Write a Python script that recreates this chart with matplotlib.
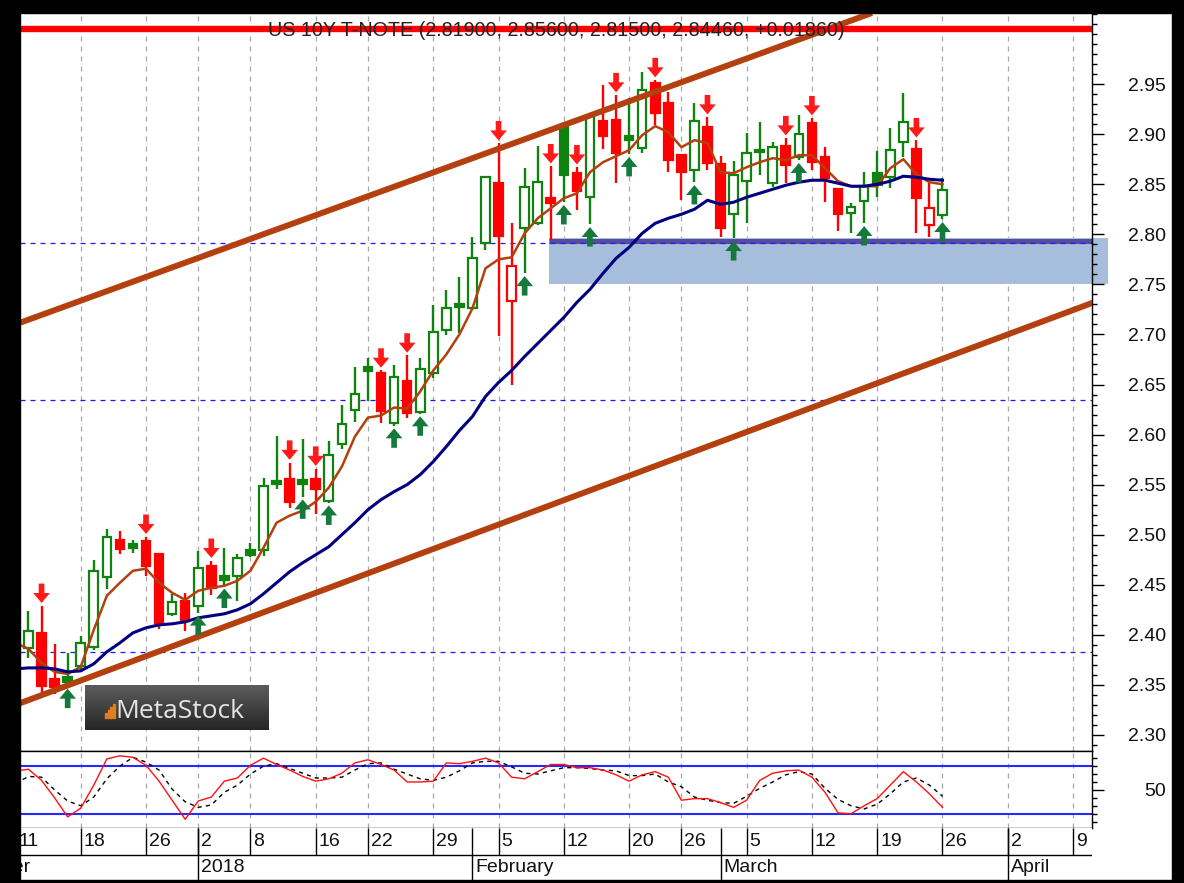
import matplotlib
matplotlib.use("Agg")
import matplotlib.pyplot as plt
import matplotlib.transforms as mtransforms
from matplotlib.patches import Rectangle
import numpy as np
import pandas as pd

plt.rcParams["font.family"] = ["Liberation Sans", "DejaVu Sans"]
plt.rcParams["axes.linewidth"] = 1.0

# ---------------- data ----------------
TITLE = "US 10Y T-NOTE (2.81900, 2.85600, 2.81500, 2.84460, +0.01860)"
holidays = ["2017-12-25", "2018-01-01", "2018-01-15", "2018-02-19"]

# daily candles, 2017-12-12 .. 2018-03-26
opens = [2.387, 2.402, 2.356, 2.358, 2.369, 2.388, 2.458, 2.495, 2.491, 2.494,
         2.481, 2.421, 2.434, 2.429, 2.469, 2.459, 2.459, 2.485, 2.485, 2.554,
         2.556, 2.555, 2.556, 2.534, 2.591, 2.625, 2.667, 2.661, 2.612, 2.653,
         2.623, 2.661, 2.704, 2.730, 2.726, 2.791, 2.851, 2.733, 2.806, 2.811,
         2.836, 2.907, 2.861, 2.837, 2.913, 2.914, 2.898, 2.886, 2.951, 2.931,
         2.879, 2.864, 2.907, 2.870, 2.820, 2.853, 2.884, 2.851, 2.888, 2.877,
         2.911, 2.877, 2.845, 2.821, 2.833, 2.861, 2.857, 2.892, 2.885, 2.809,
         2.819]
highs = [2.424, 2.429, 2.391, 2.382, 2.399, 2.475, 2.506, 2.504, 2.495, 2.498,
         2.482, 2.441, 2.442, 2.484, 2.474, 2.487, 2.481, 2.492, 2.557, 2.599,
         2.572, 2.596, 2.566, 2.594, 2.630, 2.667, 2.676, 2.664, 2.669, 2.679,
         2.676, 2.729, 2.744, 2.757, 2.797, 2.858, 2.891, 2.811, 2.866, 2.888,
         2.868, 2.908, 2.867, 2.919, 2.949, 2.939, 2.936, 2.962, 2.954, 2.942,
         2.880, 2.931, 2.917, 2.878, 2.873, 2.901, 2.912, 2.892, 2.896, 2.919,
         2.916, 2.887, 2.846, 2.831, 2.862, 2.883, 2.906, 2.941, 2.894, 2.851,
         2.856]
lows = [2.377, 2.341, 2.341, 2.349, 2.364, 2.385, 2.446, 2.481, 2.482, 2.459,
        2.406, 2.419, 2.404, 2.422, 2.440, 2.449, 2.434, 2.478, 2.479, 2.546,
        2.527, 2.538, 2.521, 2.532, 2.586, 2.613, 2.634, 2.612, 2.609, 2.617,
        2.621, 2.656, 2.699, 2.701, 2.724, 2.784, 2.698, 2.650, 2.761, 2.809,
        2.794, 2.832, 2.824, 2.810, 2.885, 2.851, 2.880, 2.881, 2.909, 2.862,
        2.834, 2.852, 2.864, 2.797, 2.796, 2.811, 2.859, 2.847, 2.851, 2.874,
        2.864, 2.832, 2.803, 2.801, 2.811, 2.837, 2.846, 2.877, 2.801, 2.797,
        2.815]
closes = [2.404, 2.349, 2.348, 2.353, 2.392, 2.464, 2.498, 2.486, 2.487, 2.469,
          2.412, 2.433, 2.414, 2.467, 2.447, 2.455, 2.477, 2.480, 2.549, 2.551,
          2.533, 2.551, 2.546, 2.580, 2.611, 2.641, 2.663, 2.624, 2.657, 2.622,
          2.665, 2.702, 2.726, 2.727, 2.776, 2.857, 2.798, 2.768, 2.847, 2.852,
          2.831, 2.859, 2.843, 2.918, 2.898, 2.881, 2.894, 2.944, 2.921, 2.874,
          2.862, 2.913, 2.871, 2.806, 2.859, 2.881, 2.882, 2.887, 2.869, 2.900,
          2.872, 2.856, 2.820, 2.827, 2.848, 2.849, 2.884, 2.912, 2.836, 2.826,
          2.8446]

# indicator lines, 2017-12-11 .. 2018-03-26
ma_fast = [2.392, 2.386, 2.372, 2.363, 2.361, 2.368, 2.405, 2.439, 2.452, 2.464,
           2.466, 2.452, 2.442, 2.435, 2.444, 2.447, 2.449, 2.454, 2.464, 2.487,
           2.512, 2.519, 2.524, 2.533, 2.547, 2.568, 2.598, 2.617, 2.619, 2.627,
           2.626, 2.643, 2.664, 2.680, 2.700, 2.726, 2.766, 2.775, 2.777, 2.801,
           2.816, 2.826, 2.836, 2.841, 2.862, 2.872, 2.878, 2.884, 2.899, 2.908,
           2.902, 2.887, 2.894, 2.891, 2.862, 2.861, 2.867, 2.872, 2.876, 2.874,
           2.879, 2.879, 2.866, 2.853, 2.848, 2.848, 2.848, 2.866, 2.875, 2.860,
           2.852, 2.850]
ma_slow = [2.366, 2.367, 2.367, 2.366, 2.363, 2.364, 2.371, 2.383, 2.392, 2.402,
           2.407, 2.410, 2.411, 2.413, 2.417, 2.419, 2.421, 2.425, 2.431, 2.441,
           2.452, 2.463, 2.472, 2.480, 2.488, 2.500, 2.512, 2.525, 2.535, 2.543,
           2.550, 2.560, 2.573, 2.588, 2.604, 2.618, 2.638, 2.652, 2.664, 2.678,
           2.691, 2.704, 2.717, 2.732, 2.745, 2.761, 2.776, 2.787, 2.801, 2.811,
           2.816, 2.820, 2.825, 2.834, 2.830, 2.832, 2.837, 2.841, 2.845, 2.849,
           2.852, 2.854, 2.854, 2.851, 2.848, 2.848, 2.850, 2.853, 2.858, 2.857,
           2.855, 2.854]
stoch_k = [74, 76, 62, 40, 16, 27, 56, 89, 93, 91,
           81, 61, 37, 13, 36, 41, 61, 65, 81, 90,
           82, 75, 67, 61, 64, 71, 84, 88, 82, 75,
           60, 60, 61, 84, 83, 86, 90, 84, 66, 64,
           73, 82, 82, 78, 78, 75, 69, 61, 69, 73,
           66, 37, 39, 39, 34, 28, 37, 62, 71, 74,
           75, 66, 47, 21, 20, 30, 39, 56, 73, 60,
           45, 28]
stoch_d = [58, 67, 66, 50, 36, 30, 41, 64, 80, 91,
           85, 75, 51, 35, 28, 31, 47, 56, 70, 80,
           83, 77, 71, 65, 65, 66, 75, 83, 84, 76,
           70, 64, 62, 66, 74, 84, 86, 86, 79, 71,
           70, 74, 78, 78, 77, 75, 74, 68, 68, 70,
           60, 54, 41, 37, 34, 33, 42, 52, 60, 69,
           73, 70, 52, 38, 30, 26, 32, 45, 60, 65,
           56, 42]
stoch_levels = [80, 20]

sell_signals = ["2017-12-13", "2017-12-26", "2018-01-03", "2018-01-11", "2018-01-16",
                "2018-01-23", "2018-01-25", "2018-02-05", "2018-02-09", "2018-02-13",
                "2018-02-16", "2018-02-22", "2018-02-28", "2018-03-08", "2018-03-12",
                "2018-03-22"]
buy_signals = ["2017-12-15", "2018-01-02", "2018-01-04", "2018-01-12", "2018-01-17",
               "2018-01-24", "2018-01-26", "2018-02-07", "2018-02-12", "2018-02-14",
               "2018-02-20", "2018-02-27", "2018-03-02", "2018-03-09", "2018-03-16",
               "2018-03-26"]

# drawn objects
channel_upper = [("2017-12-11", 2.710), ("2018-03-07", 2.985)]
channel_lower = [("2017-12-11", 2.330), ("2018-04-02", 2.700)]
level_top = 3.005
dashed_levels = [2.791, 2.635, 2.383]
zone_start = "2018-02-09"
zone_low, zone_high = 2.750, 2.796
zone_line = 2.793

week_ticks = ["2017-12-11", "2017-12-18", "2017-12-26", "2018-01-02", "2018-01-08",
              "2018-01-16", "2018-01-22", "2018-01-29", "2018-02-05", "2018-02-12",
              "2018-02-20", "2018-02-26", "2018-03-05", "2018-03-12", "2018-03-19",
              "2018-03-26", "2018-04-02", "2018-04-09"]
month_starts = ["2017-12-01", "2018-01-02", "2018-02-01", "2018-03-01", "2018-04-02"]
month_labels = ["December", "2018", "February", "March", "April"]

price_ticks = np.arange(2.30, 2.951, 0.05)

# ---------------- trading-day axis ----------------
days = pd.bdate_range("2017-12-01", "2018-04-13")
days = days[~days.isin(pd.to_datetime(holidays))]
xpos = pd.Series(np.arange(len(days)), index=days)

candle_days = days[(days >= "2017-12-12") & (days <= "2018-03-26")]
line_days = days[(days >= "2017-12-11") & (days <= "2018-03-26")]
ohlc = pd.DataFrame({"open": opens, "high": highs, "low": lows, "close": closes},
                    index=candle_days)
lines = pd.DataFrame({"fast": ma_fast, "slow": ma_slow, "k": stoch_k, "d": stoch_d},
                     index=line_days)

X0 = xpos[pd.Timestamp("2017-12-11")] + 0.35
X1 = xpos[pd.Timestamp("2018-04-09")] + 1.45

GREEN = "#0f820f"
RED = "#ff0000"
BROWN = "#b3400e"
NAVY = "#000080"

W, H = 1184, 883
fig = plt.figure(figsize=(W / 100, H / 100), dpi=100)
fig.patch.set_facecolor("white")


def frac(x0, y0, x1, y1):
    return [x0 / W, 1 - y1 / H, (x1 - x0) / W, (y1 - y0) / H]


ax = fig.add_axes(frac(20, 14, 1092, 751))
axs = fig.add_axes(frac(20, 751, 1092, 828))
axd = fig.add_axes(frac(20, 828, 1092, 880))

for a in (ax, axs, axd):
    a.set_xlim(X0, X1)
    a.set_xticks([])
    a.spines["left"].set_visible(False)
    a.spines["top"].set_visible(False)

# ---------------- price panel ----------------
ax.set_ylim(2.284, 3.020)
for d in week_ticks:
    ax.axvline(xpos[pd.Timestamp(d)], color="#a8a8a8", lw=0.9, ls=(0, (4, 4)), zorder=0)
    axs.axvline(xpos[pd.Timestamp(d)], color="#a8a8a8", lw=0.9, ls=(0, (4, 4)), zorder=0)

zx = xpos[pd.Timestamp(zone_start)] - 0.13
ax.add_patch(Rectangle((zx, zone_low), X1 + 1.25 - zx, zone_high - zone_low,
                       facecolor="#a6bddc", edgecolor="none", zorder=1, clip_on=False))
ax.plot([zx, X1], [zone_line, zone_line], color="#554c9e", lw=3.6, zorder=2,
        solid_capstyle="butt")

for lv in dashed_levels:
    ax.axhline(lv, color="#1a1aff", lw=0.9, ls=(0, (4, 4)), zorder=2)

prev_close = ohlc["close"].shift(1)
body_w = 0.66
for d, row in ohlc.iterrows():
    x = xpos[d]
    up = pd.isna(prev_close[d]) or row["close"] >= prev_close[d]
    col = GREEN if up else RED
    ax.vlines(x, row["low"], row["high"], color=col, lw=1.7, zorder=3)
    lo, hi = sorted((row["open"], row["close"]))
    hollow = row["close"] > row["open"]
    ax.add_patch(Rectangle((x - body_w / 2, lo), body_w, max(hi - lo, 0.0012),
                           facecolor="white" if hollow else col, edgecolor=col,
                           lw=1.6, zorder=4))

xl = xpos[line_days].values
ax.plot(xl, lines["fast"], color=BROWN, lw=1.8, zorder=5)
ax.plot(xl, lines["slow"], color=NAVY, lw=2.2, zorder=5)

for pts in (channel_upper, channel_lower):
    (d0, v0), (d1, v1) = pts
    ax.axline((xpos[pd.Timestamp(d0)], v0), (xpos[pd.Timestamp(d1)], v1),
              color=BROWN, lw=4.3, zorder=5)

ax.axhline(level_top, color="#ff0000", lw=4.6, zorder=5)

arrow = "simple,head_length=0.6,head_width=1.0,tail_width=0.34"
for d in sell_signals:
    t = pd.Timestamp(d)
    ax.annotate("", xy=(xpos[t], ohlc.loc[t, "high"]), xytext=(0, 16),
                textcoords="offset points", zorder=6,
                arrowprops=dict(arrowstyle=arrow, color="#ff1a1a", lw=0,
                                shrinkA=0, shrinkB=2, mutation_scale=12))
for d in buy_signals:
    t = pd.Timestamp(d)
    ax.annotate("", xy=(xpos[t], ohlc.loc[t, "low"]), xytext=(0, -16),
                textcoords="offset points", zorder=6,
                arrowprops=dict(arrowstyle=arrow, color="#16793c", lw=0,
                                shrinkA=0, shrinkB=2, mutation_scale=12))

ax.text(0.5, 0.978, TITLE, transform=ax.transAxes, ha="center", va="center",
        fontsize=14.2, color="#222222", zorder=8)

ax.yaxis.tick_right()
ax.set_yticks(price_ticks)
ax.set_yticklabels([f"{v:.2f}" for v in price_ticks])
ax.set_yticks(np.arange(2.29, 3.021, 0.01), minor=True)
ax.tick_params(axis="y", which="major", length=8.6, width=1, pad=44.5,
               labelsize=14, labelcolor="#111111")
ax.tick_params(axis="y", which="minor", length=3.6, width=1)
plt.setp(ax.get_yticklabels(), ha="right")

# ---------------- stochastic panel ----------------
axs.set_ylim(2, 99)
for lv in stoch_levels:
    axs.axhline(lv, color="#2828ff", lw=1.5, zorder=1)
axs.plot(xl, lines["d"], color="black", lw=1.0, ls=(0, (3, 3)), zorder=2)
axs.plot(xl, lines["k"], color="#ff1010", lw=1.0, zorder=3)
axs.yaxis.tick_right()
axs.set_yticks([50])
axs.set_yticklabels(["50"])
axs.set_yticks(np.arange(10, 100, 10), minor=True)
axs.tick_params(axis="y", which="major", length=8.6, width=1, pad=44.5,
                labelsize=14, labelcolor="#111111")
axs.tick_params(axis="y", which="minor", length=3.6, width=1)
plt.setp(axs.get_yticklabels(), ha="right")
axs.spines["top"].set_visible(True)

# ---------------- date axis ----------------
axd.set_ylim(0, 1)
axd.set_yticks([])
axd.spines["right"].set_visible(False)
axd.spines["bottom"].set_visible(False)
row_split = 25 / 52
axd.axhline(row_split, color="black", lw=1)
blend = mtransforms.blended_transform_factory(axd.transData, axd.transAxes)
txt_tr = mtransforms.offset_copy(blend, fig=fig, x=3, y=0, units="dots")
for d in week_ticks:
    t = pd.Timestamp(d)
    axd.vlines(xpos[t], row_split, 1, color="black", lw=1, transform=blend)
    axd.text(xpos[t], (row_split + 1) / 2, str(t.day), transform=txt_tr,
             ha="left", va="center", fontsize=14, color="#111111", clip_on=True)
for d, lab in zip(month_starts, month_labels):
    t = pd.Timestamp(d)
    axd.vlines(xpos[t], 0, 1, color="black", lw=1, transform=blend)
    axd.text(xpos[t], row_split / 2, lab, transform=txt_tr,
             ha="left", va="center", fontsize=14, color="#111111", clip_on=True)

# ---------------- MetaStock badge ----------------
logo = fig.add_axes(frac(85, 685, 269, 730))
grad = np.linspace(0.15, 0.36, 45)[:, None] * np.ones((1, 10))
logo.imshow(grad, cmap="gray", vmin=0, vmax=1, extent=(0, 184, 0, 45),
            aspect="auto", origin="lower")
for k, hgt in enumerate([5, 8, 11, 14]):
    logo.add_patch(Rectangle((20 + 2.6 * k, 12), 2.0, hgt, color="#e07d1c"))
logo.text(30, 12.5, "MetaStock", fontsize=19, color="#e4e4e4",
          family=["Open Sans", "DejaVu Sans"], ha="left", va="baseline")
logo.set_xlim(0, 184)
logo.set_ylim(0, 45)
logo.axis("off")

# ---------------- screenshot frame ----------------
for (x0, y0, x1, y1) in [(0, 0, 20, H), (0, 0, W, 13), (1172, 0, W, H), (0, 880, W, H)]:
    fig.add_artist(Rectangle((x0 / W, 1 - y1 / H), (x1 - x0) / W, (y1 - y0) / H,
                             transform=fig.transFigure, color="black", zorder=10))

fig.savefig("out.png", dpi=100, facecolor="white")
